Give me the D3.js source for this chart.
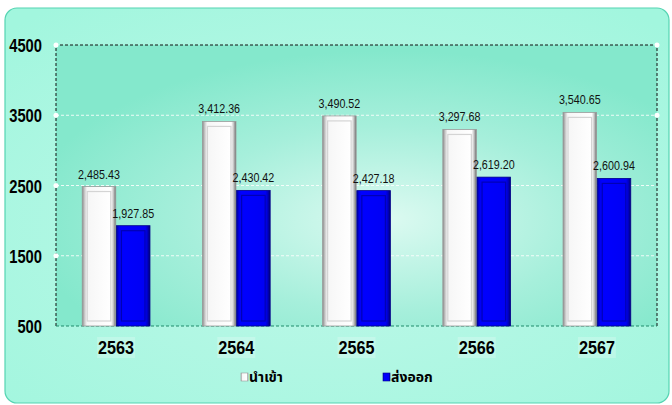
<!DOCTYPE html>
<html>
<head>
<meta charset="utf-8">
<script src="https://cdn.jsdelivr.net/npm/d3@7"></script>
<style>
  body { margin: 0; background: #fff; }
  svg { display: block; }
</style>
</head>
<body>
<div id="chart"></div>
<script>
// data
var years = ["2563", "2564", "2565", "2566", "2567"];
var imports = [2485.43, 3412.36, 3490.52, 3297.68, 3540.65];
var exports = [1927.85, 2430.42, 2427.18, 2619.20, 2600.94];
var seriesNames = ["นำเข้า", "ส่งออก"];
var yTicks = [500, 1500, 2500, 3500, 4500];

var W = 672, H = 405;
var margin = { top: 45, right: 15, bottom: 79, left: 56 },
    width = W - margin.left - margin.right,
    height = H - margin.top - margin.bottom;

var narrowFont = "'Liberation Sans', Arial, sans-serif";

var svg = d3.select("#chart").append("svg")
    .attr("width", W)
    .attr("height", H);

var defs = svg.append("defs");

var outerGrad = defs.append("radialGradient").attr("id", "outerGrad")
    .attr("cx", "50%").attr("cy", "55%").attr("r", "70%");
outerGrad.append("stop").attr("offset", "0%").attr("stop-color", "#c0f8e9");
outerGrad.append("stop").attr("offset", "100%").attr("stop-color", "#a2f6de");

var plotGrad = defs.append("radialGradient").attr("id", "plotGrad")
    .attr("cx", "55%").attr("cy", "62%").attr("r", "60%");
plotGrad.append("stop").attr("offset", "0%").attr("stop-color", "#dcfaf1");
plotGrad.append("stop").attr("offset", "55%").attr("stop-color", "#a6efdb");
plotGrad.append("stop").attr("offset", "100%").attr("stop-color", "#84e8cc");

function barGrad(id, stops) {
  var gr = defs.append("linearGradient").attr("id", id)
      .attr("x1", "0%").attr("x2", "100%").attr("y1", "0%").attr("y2", "0%");
  stops.forEach(function (s) {
    gr.append("stop").attr("offset", s[0]).attr("stop-color", s[1]);
  });
}
barGrad("gradImp", [["0%", "#8a8a8a"], ["7%", "#c8c8c8"], ["14%", "#f6f6f6"], ["86%", "#ffffff"], ["93%", "#c4c4c4"], ["100%", "#6e6e6e"]]);
barGrad("gradExp", [["0%", "#0000a0"], ["8%", "#0000f0"], ["14%", "#0000ff"], ["86%", "#0000f4"], ["93%", "#0000c0"], ["100%", "#000070"]]);

// outer chart box
svg.append("rect")
    .attr("x", 5).attr("y", 8)
    .attr("width", 664).attr("height", 395)
    .attr("rx", 12)
    .attr("fill", "url(#outerGrad)")
    .attr("stroke", "#55d4b2")
    .attr("stroke-width", 1.2);

var g = svg.append("g")
    .attr("transform", "translate(" + margin.left + "," + margin.top + ")");

g.append("rect")
    .attr("width", width).attr("height", height)
    .attr("fill", "url(#plotGrad)");

var x0 = d3.scaleBand()
    .domain(years)
    .range([0, width])
    .paddingInner(0.425)
    .paddingOuter(0.2125);

var x1 = d3.scaleBand()
    .domain([0, 1])
    .range([0, x0.bandwidth()])
    .padding(0.02);

var y = d3.scaleLinear()
    .domain([500, 4500])
    .range([height, 0]);

// grid lines
g.selectAll(".grid")
    .data(yTicks.filter(function (d) { return d > 500 && d < 4500; }))
    .enter().append("line")
    .attr("x1", 0).attr("x2", width)
    .attr("y1", function (d) { return y(d); })
    .attr("y2", function (d) { return y(d); })
    .attr("stroke", "#ffffff")
    .attr("stroke-width", 1)
    .attr("stroke-dasharray", "3,2")
    .attr("opacity", 0.85);

// plot border: dashed black on top/left/right, dark green on bottom
g.append("path")
    .attr("d", "M0," + height + "V0H" + width + "V" + height)
    .attr("fill", "none")
    .attr("stroke", "#111")
    .attr("stroke-width", 1)
    .attr("stroke-dasharray", "3,2");
g.append("line")
    .attr("x1", 0).attr("x2", width)
    .attr("y1", height).attr("y2", height)
    .attr("stroke", "#1f8a6a")
    .attr("stroke-dasharray", "3,2");

// little white dots on the axis
g.selectAll(".dotL")
    .data(yTicks.filter(function (d) { return d > 500; }))
    .enter().append("circle")
    .attr("cx", 0).attr("cy", function (d) { return y(d); })
    .attr("r", 2.5).attr("fill", "#fff");
g.selectAll(".dotR")
    .data([3500, 4500])
    .enter().append("circle")
    .attr("cx", width).attr("cy", function (d) { return y(d); })
    .attr("r", 2.5).attr("fill", "#fff");

// y axis labels (squeezed horizontally to look like a narrow face)
var yAxis = g.append("g")
    .call(d3.axisLeft(y).tickValues(yTicks).tickSize(0).tickPadding(14).tickFormat(d3.format("d")));
yAxis.select(".domain").remove();
yAxis.selectAll("text")
    .attr("x", null).attr("dy", null)
    .attr("transform", "translate(-14,6.5) scale(0.82,1)")
    .attr("font-family", narrowFont)
    .attr("font-weight", "bold")
    .attr("font-size", "18px")
    .attr("fill", "#000");

// bars
var rows = years.map(function (yr, i) {
  return { year: yr, vals: [imports[i], exports[i]] };
});

var groups = g.selectAll(".grp")
    .data(rows)
    .enter().append("g")
    .attr("transform", function (d) { return "translate(" + x0(d.year) + ",0)"; });

var bars = groups.selectAll(".bar")
    .data(function (d) { return d.vals.map(function (v, k) { return { k: k, v: v }; }); })
    .enter().append("g");

bars.append("rect")
    .attr("x", function (d) { return x1(d.k); })
    .attr("y", function (d) { return y(d.v); })
    .attr("width", x1.bandwidth())
    .attr("height", function (d) { return height - y(d.v); })
    .attr("fill", function (d) { return d.k === 0 ? "url(#gradImp)" : "url(#gradExp)"; })
    .attr("stroke", function (d) { return d.k === 0 ? "#9a9a9a" : "#00008a"; })
    .attr("stroke-width", 0.8);

// inner bevel
bars.append("rect")
    .attr("x", function (d) { return x1(d.k) + 5; })
    .attr("y", function (d) { return y(d.v) + 5; })
    .attr("width", x1.bandwidth() - 10)
    .attr("height", function (d) { return Math.max(0, height - y(d.v) - 10); })
    .attr("fill", "none")
    .attr("stroke", function (d) { return d.k === 0 ? "#d4d4d4" : "#0000b4"; })
    .attr("stroke-width", 1.2);

// value labels
bars.append("text")
    .attr("transform", function (d) {
      return "translate(" + (x1(d.k) + x1.bandwidth() / 2) + "," + (y(d.v) - 8) + ") scale(0.86,1)";
    })
    .attr("text-anchor", "middle")
    .attr("font-family", narrowFont)
    .attr("font-size", "12.5px")
    .attr("fill", "#111")
    .text(function (d) { return d3.format(",.2f")(d.v); });

// x axis labels
var xAxis = g.append("g")
    .attr("transform", "translate(0," + height + ")")
    .call(d3.axisBottom(x0).tickSize(0).tickPadding(16));
xAxis.select(".domain").remove();
xAxis.selectAll(".tick").insert("rect", "text")
    .attr("x", -19).attr("y", 11)
    .attr("width", 38).attr("height", 21)
    .attr("fill", "#ffffff")
    .attr("opacity", 0.22);
xAxis.selectAll("text")
    .attr("y", null).attr("dy", null)
    .attr("transform", "translate(0,28) scale(0.9,1)")
    .attr("font-family", narrowFont)
    .attr("font-weight", "bold")
    .attr("font-size", "18px")
    .attr("fill", "#000");

// legend
var legend = svg.append("g")
    .attr("transform", "translate(241,373)");
var legItems = legend.selectAll(".leg")
    .data(seriesNames)
    .enter().append("g")
    .attr("transform", function (d, i) { return "translate(" + (i * 142) + ",0)"; });
legItems.append("rect")
    .attr("width", 7).attr("height", 8)
    .attr("fill", function (d, i) { return i === 0 ? "url(#gradImp)" : "url(#gradExp)"; })
    .attr("stroke", function (d, i) { return i === 0 ? "#999" : "#00008a"; })
    .attr("stroke-width", 0.6);
legItems.append("text")
    .attr("x", 8).attr("y", 9)
    .attr("font-family", "'Noto Sans Thai', 'Noto Sans', 'DejaVu Sans', sans-serif")
    .attr("font-weight", "bold")
    .attr("font-size", "14px")
    .attr("fill", "#000")
    .text(function (d) { return d; });
</script>
</body>
</html>
